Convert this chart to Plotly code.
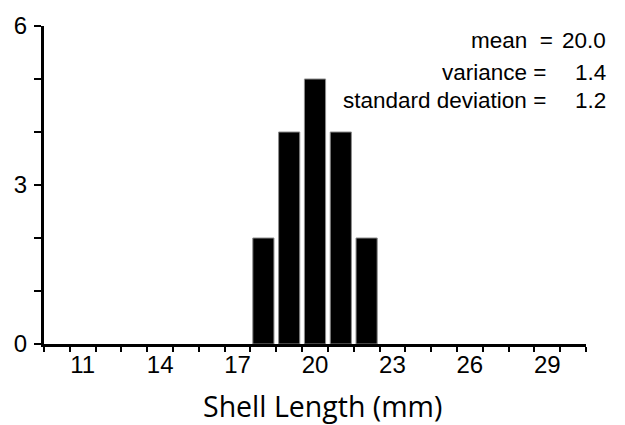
import plotly.graph_objects as go

# Histogram of shell lengths (mm): bin centre and count
lengths = [18, 19, 20, 21, 22]
counts = [2, 4, 5, 4, 2]

x_tick_labels = [11, 14, 17, 20, 23, 26, 29]
y_tick_labels = [0, 3, 6]

stat_names = ["mean  =", "variance =", "standard deviation ="]
stat_values = ["20.0", "1.4", "1.2"]

W, H = 625, 425
L, R, T, B = 44, 39, 21, 81
PW, PH = W - L - R, H - T - B

TICK_FONT = dict(family="Liberation Sans, Arial, sans-serif", size=24, color="black")


def px_x(px):
    return (px - L) / PW


def px_y(py):
    return (H - B - py) / PH


fig = go.Figure(
    go.Bar(
        x=lengths,
        y=counts,
        width=0.82,
        marker=dict(color="black", line=dict(color="#8c8c8c", width=1)),
        hoverinfo="skip",
    )
)

fig.update_layout(
    width=W,
    height=H,
    margin=dict(l=L, r=R, t=T, b=B),
    plot_bgcolor="white",
    paper_bgcolor="white",
    showlegend=False,
    font=TICK_FONT,
)

fig.update_xaxes(
    range=[9.5, 30.5],
    tickmode="array",
    tickvals=x_tick_labels,
    ticktext=[str(v) for v in x_tick_labels],
    tickfont=TICK_FONT,
    ticks="outside",
    ticklen=5,
    tickcolor="rgba(0,0,0,0)",
    ticklabelstandoff=-8,
    showline=True,
    linecolor="black",
    linewidth=3,
    showgrid=False,
    zeroline=False,
    minor=dict(ticks="outside", tick0=9.5, dtick=1, ticklen=5, tickwidth=2,
               tickcolor="black", showgrid=False),
)

fig.update_yaxes(
    range=[0, 6],
    tickmode="array",
    tickvals=y_tick_labels,
    ticktext=[str(v) for v in y_tick_labels],
    tickfont=TICK_FONT,
    ticks="outside",
    ticklen=7,
    tickwidth=2,
    tickcolor="black",
    ticklabelstandoff=2,
    showline=True,
    linecolor="black",
    linewidth=3,
    showgrid=False,
    zeroline=False,
    minor=dict(ticks="outside", tick0=0, dtick=1, ticklen=7, tickwidth=2,
               tickcolor="black", showgrid=False),
)

# summary statistics, right-aligned block in the upper right corner
name_right = [555, 548, 548]
row_mid = [35.5, 68.5, 96.5]
for name, val, nx, ry in zip(stat_names, stat_values, name_right, row_mid):
    fig.add_annotation(text=name, xref="paper", yref="paper", x=px_x(nx), y=px_y(ry),
                       xanchor="right", yanchor="middle", showarrow=False,
                       font=dict(size=22.5))
    fig.add_annotation(text=val, xref="paper", yref="paper", x=px_x(608), y=px_y(ry),
                       xanchor="right", yanchor="middle", showarrow=False,
                       font=dict(size=22.5))

# x-axis title
fig.add_annotation(text="Shell Length (mm)", xref="paper", yref="paper",
                   x=px_x(322.5), y=px_y(407), xanchor="center", yanchor="middle",
                   showarrow=False, font=dict(family="Open Sans, sans-serif", size=28.5))

fig.write_html("out.html")
